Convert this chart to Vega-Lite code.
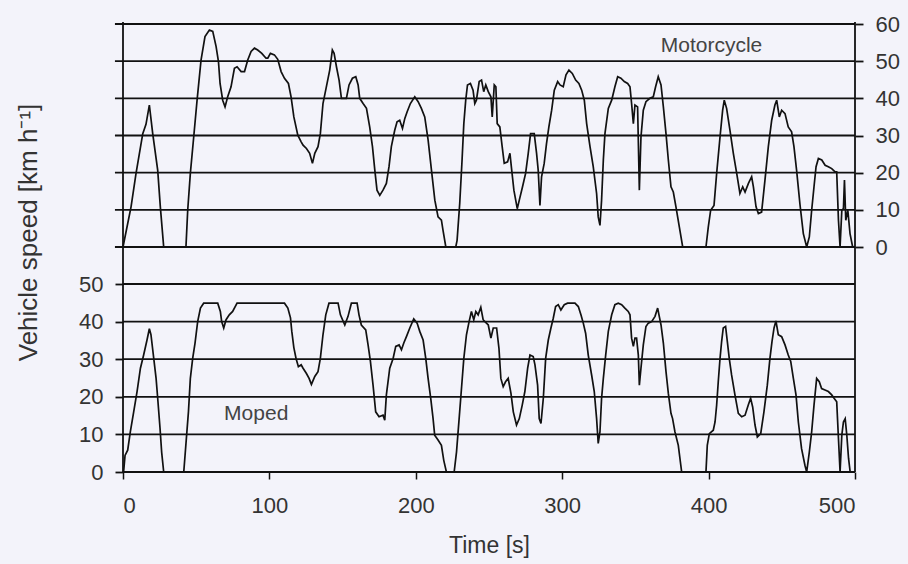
{
  "$schema": "https://vega.github.io/schema/vega-lite/v6.json",
  "width": 732,
  "height": 450,
  "autosize": {"type": "none"},
  "padding": {"left": 123, "top": 22, "right": 53, "bottom": 92},
  "background": "#f3f3fa",
  "config": {
    "view": {"stroke": null},
    "font": "Liberation Sans",
    "axisX": {
      "grid": false,
      "domain": false,
      "tickSize": 7,
      "tickColor": "#111111",
      "tickWidth": 1.5,
      "labelFontSize": 22,
      "labelColor": "#333333",
      "labelPadding": 16,
      "titleFontSize": 23,
      "titleColor": "#333333",
      "titleFontWeight": "normal",
      "titlePadding": 18
    },
    "axisY": {
      "domain": false,
      "grid": false,
      "tickSize": 8,
      "tickColor": "#111111",
      "tickWidth": 1.8,
      "labelFontSize": 22,
      "labelColor": "#333333",
      "labelPadding": 12
    }
  },
  "datasets": {
    "moto": [
      {"t":0,"v":0},{"t":5.5,"v":10.8},{"t":8.9,"v":19.8},{"t":13.5,"v":30.5},{"t":15.7,"v":33},{"t":18,"v":38.2},{"t":20.3,"v":30.5},{"t":23.7,"v":20.7},{"t":25.5,"v":10.8},{"t":27.8,"v":0},{"t":43,"v":0},{"t":44.2,"v":9.9},{"t":46,"v":19.8},{"t":48.3,"v":29.6},{"t":50.6,"v":39.5},{"t":53.3,"v":50.3},{"t":56,"v":56.6},{"t":59,"v":58.4},{"t":61.3,"v":58},{"t":63.6,"v":53.9},{"t":65.2,"v":49.9},{"t":66.3,"v":44},{"t":68.1,"v":39.5},{"t":69.7,"v":37.7},{"t":71.5,"v":40.4},{"t":73.8,"v":43.1},{"t":76.1,"v":48.1},{"t":77.9,"v":48.5},{"t":80.7,"v":47.2},{"t":83,"v":47.2},{"t":85.2,"v":50.3},{"t":87.5,"v":52.6},{"t":89.8,"v":53.5},{"t":92,"v":53},{"t":94.8,"v":52.1},{"t":97.7,"v":50.8},{"t":98.9,"v":50.8},{"t":100.7,"v":52.1},{"t":103.4,"v":51.7},{"t":105.7,"v":50.5},{"t":108,"v":47.2},{"t":110.3,"v":45.4},{"t":113,"v":44},{"t":114.8,"v":40.4},{"t":116.7,"v":35},{"t":119.4,"v":30.1},{"t":121.7,"v":28.3},{"t":123,"v":27.4},{"t":125.3,"v":26.5},{"t":127.5,"v":25.2},{"t":129.4,"v":22.5},{"t":131,"v":25.2},{"t":133.2,"v":27},{"t":134.8,"v":30.5},{"t":136.6,"v":38.6},{"t":138.9,"v":43.1},{"t":141.2,"v":47.6},{"t":143,"v":53},{"t":144.2,"v":52.1},{"t":145.8,"v":48.5},{"t":147.6,"v":44.9},{"t":149.2,"v":40},{"t":152.6,"v":40},{"t":154.4,"v":43.6},{"t":156.7,"v":45.4},{"t":159,"v":45.8},{"t":160.6,"v":43.6},{"t":161.7,"v":40},{"t":164,"v":38.6},{"t":166.3,"v":37.3},{"t":168.5,"v":32.3},{"t":170.4,"v":27},{"t":172,"v":20.7},{"t":173.5,"v":15.3},{"t":175.4,"v":13.9},{"t":177.6,"v":15.3},{"t":179.9,"v":17.1},{"t":181.7,"v":21.6},{"t":183.3,"v":27},{"t":185.6,"v":31.4},{"t":187.2,"v":33.7},{"t":189,"v":34.1},{"t":190.9,"v":31.9},{"t":192.5,"v":34.6},{"t":194.1,"v":36.4},{"t":196.3,"v":38.6},{"t":199.3,"v":40.4},{"t":201.6,"v":39.1},{"t":203.8,"v":37.3},{"t":206.1,"v":35},{"t":208.4,"v":28.8},{"t":210.7,"v":20.7},{"t":213,"v":12.6},{"t":215.2,"v":8.1},{"t":217.5,"v":7.2},{"t":218.6,"v":4.5},{"t":220.5,"v":0},{"t":227.3,"v":0},{"t":228.2,"v":1.8},{"t":230,"v":11.7},{"t":231.6,"v":23.4},{"t":232.8,"v":33.2},{"t":234.1,"v":39.5},{"t":235.3,"v":43.6},{"t":237.3,"v":44},{"t":239.1,"v":42.2},{"t":240.3,"v":38.6},{"t":241.4,"v":39.5},{"t":243.3,"v":44.5},{"t":244.9,"v":44.9},{"t":246.4,"v":41.8},{"t":247.8,"v":43.6},{"t":249.5,"v":41.8},{"t":251.3,"v":40.4},{"t":252.2,"v":35},{"t":253.6,"v":43.6},{"t":254.7,"v":43.1},{"t":255.6,"v":33.2},{"t":257.4,"v":32.3},{"t":259,"v":27},{"t":260.4,"v":22.5},{"t":262.7,"v":22.9},{"t":264.3,"v":25.2},{"t":265.4,"v":21.1},{"t":267,"v":15.3},{"t":269.3,"v":10.3},{"t":270.7,"v":12.6},{"t":272.9,"v":16.2},{"t":275,"v":19.8},{"t":276.8,"v":25.2},{"t":278.4,"v":30.5},{"t":280.9,"v":30.5},{"t":282.5,"v":25.2},{"t":283.6,"v":20.7},{"t":284.8,"v":11.2},{"t":285.9,"v":18.9},{"t":287.7,"v":22.5},{"t":289.3,"v":27.9},{"t":290.9,"v":32.3},{"t":292.8,"v":36.8},{"t":294.6,"v":42.2},{"t":296.9,"v":44.5},{"t":298.5,"v":43.6},{"t":300.7,"v":43.1},{"t":302.6,"v":46.3},{"t":304.6,"v":47.6},{"t":306.9,"v":46.7},{"t":309.2,"v":44.9},{"t":311.4,"v":44},{"t":313.3,"v":42.2},{"t":315.1,"v":39.5},{"t":316.7,"v":33.2},{"t":319,"v":27},{"t":321.2,"v":21.6},{"t":323.5,"v":14.4},{"t":324.6,"v":8.1},{"t":325.8,"v":5.8},{"t":326.9,"v":12.6},{"t":328.1,"v":23.4},{"t":329.2,"v":30.5},{"t":331.5,"v":37.3},{"t":333.8,"v":39.5},{"t":336,"v":43.1},{"t":337.9,"v":45.8},{"t":340.1,"v":45.4},{"t":342.4,"v":44.5},{"t":344.7,"v":44},{"t":346.3,"v":43.1},{"t":347.4,"v":38.6},{"t":348.6,"v":33.2},{"t":349.7,"v":38.2},{"t":351.5,"v":37.7},{"t":352.7,"v":15.3},{"t":353.8,"v":29.6},{"t":355.4,"v":36.8},{"t":357.2,"v":39.1},{"t":359.9,"v":40},{"t":362.2,"v":40.4},{"t":363.8,"v":43.1},{"t":365.6,"v":45.8},{"t":367.5,"v":43.6},{"t":369.1,"v":37.7},{"t":370.9,"v":30.5},{"t":372.5,"v":23.4},{"t":374.3,"v":16.2},{"t":375.9,"v":14.8},{"t":377.7,"v":10.8},{"t":380,"v":5.4},{"t":382.3,"v":0},{"t":398.2,"v":0},{"t":399.8,"v":5.4},{"t":401.4,"v":9.9},{"t":403.7,"v":11.2},{"t":405.5,"v":19.8},{"t":407.8,"v":29.6},{"t":409.6,"v":36.8},{"t":410.7,"v":39.5},{"t":412.3,"v":37.3},{"t":414.6,"v":31.4},{"t":416.9,"v":25.2},{"t":419.2,"v":19.8},{"t":421.4,"v":14.4},{"t":423.3,"v":16.2},{"t":424.9,"v":14.8},{"t":427.2,"v":17.1},{"t":429.4,"v":18.9},{"t":430.6,"v":16.2},{"t":432.4,"v":10.8},{"t":434,"v":9},{"t":436.2,"v":9.4},{"t":438.5,"v":18},{"t":440.8,"v":27},{"t":443.1,"v":34.1},{"t":445.3,"v":38.2},{"t":446.5,"v":39.5},{"t":448.3,"v":35},{"t":449.9,"v":36.8},{"t":452.2,"v":35.9},{"t":454.4,"v":32.3},{"t":456.7,"v":31},{"t":458.3,"v":27},{"t":460.1,"v":20.7},{"t":462.4,"v":11.5},{"t":464.7,"v":3.6},{"t":467,"v":0},{"t":468.8,"v":2.7},{"t":470.4,"v":9.9},{"t":472,"v":16.2},{"t":473.4,"v":21.6},{"t":475,"v":23.8},{"t":477.3,"v":23.4},{"t":479.6,"v":22},{"t":481.8,"v":21.6},{"t":484.1,"v":21.1},{"t":486.4,"v":20.2},{"t":487.5,"v":20.2},{"t":488.7,"v":7.2},{"t":489.8,"v":0},{"t":491,"v":9.9},{"t":492.1,"v":10.3},{"t":492.8,"v":18},{"t":493.7,"v":7.2},{"t":495.1,"v":9.9},{"t":496.6,"v":3.6},{"t":498.4,"v":0}
    ],
    "moped": [
      {"t":0,"v":0},{"t":0.5,"v":0.4},{"t":1.4,"v":4.4},{"t":3.2,"v":5.8},{"t":5,"v":10.7},{"t":7.3,"v":16},{"t":9.6,"v":21.4},{"t":11.9,"v":27.6},{"t":14.1,"v":31.1},{"t":16.4,"v":35.1},{"t":18,"v":38.1},{"t":19.1,"v":36.5},{"t":21,"v":30.2},{"t":22.6,"v":24.9},{"t":23.7,"v":19.6},{"t":25.3,"v":11.6},{"t":26.4,"v":5.3},{"t":27.8,"v":0},{"t":41.5,"v":0},{"t":43.1,"v":8},{"t":44.7,"v":16},{"t":46,"v":24.9},{"t":47.6,"v":30.2},{"t":49.2,"v":34.3},{"t":51,"v":40},{"t":52.9,"v":43.6},{"t":55.1,"v":44.9},{"t":64.7,"v":44.9},{"t":66.5,"v":42.7},{"t":67.4,"v":40},{"t":68.8,"v":38.3},{"t":70.4,"v":40.5},{"t":72.6,"v":41.8},{"t":74.9,"v":42.7},{"t":77.9,"v":44.9},{"t":110.3,"v":44.9},{"t":112.6,"v":43.6},{"t":114.4,"v":41},{"t":115.3,"v":37.4},{"t":116.7,"v":33.1},{"t":118.2,"v":30.2},{"t":119.8,"v":28},{"t":121.7,"v":28.5},{"t":123,"v":27.6},{"t":125.3,"v":26.2},{"t":127.1,"v":24.9},{"t":128.7,"v":23.3},{"t":131,"v":25.4},{"t":133.2,"v":26.7},{"t":134.8,"v":30.2},{"t":136.6,"v":36.5},{"t":138.5,"v":41.8},{"t":140.7,"v":44.9},{"t":146.9,"v":44.9},{"t":148.5,"v":41.8},{"t":151.5,"v":39.1},{"t":153.7,"v":41.4},{"t":156,"v":44.9},{"t":159.9,"v":44.9},{"t":161.2,"v":41.8},{"t":162.8,"v":39.1},{"t":165.8,"v":37.8},{"t":167.4,"v":33.8},{"t":169,"v":29.4},{"t":170.8,"v":23.1},{"t":172.6,"v":16},{"t":174.9,"v":14.7},{"t":177.6,"v":15.1},{"t":178.8,"v":13.8},{"t":179.9,"v":20.5},{"t":182.2,"v":27.6},{"t":184.5,"v":30.2},{"t":186.3,"v":33.4},{"t":188.6,"v":33.8},{"t":190.2,"v":32.5},{"t":191.8,"v":34.3},{"t":193.6,"v":36},{"t":195.9,"v":38.3},{"t":198.6,"v":40.7},{"t":200.9,"v":39.6},{"t":202.7,"v":37.4},{"t":205,"v":35.1},{"t":206.8,"v":30.2},{"t":208.4,"v":24.9},{"t":210.2,"v":19.6},{"t":211.8,"v":14.2},{"t":212.9,"v":9.8},{"t":215.2,"v":8.5},{"t":217.5,"v":7.1},{"t":219.1,"v":3.1},{"t":220.9,"v":0},{"t":226.2,"v":0},{"t":227.8,"v":5.3},{"t":229.6,"v":14.2},{"t":231.2,"v":22.2},{"t":232.8,"v":30.2},{"t":234.6,"v":36.5},{"t":236.4,"v":40},{"t":238,"v":42.7},{"t":239.6,"v":40.5},{"t":241,"v":42.7},{"t":242.6,"v":41.8},{"t":244.4,"v":43.8},{"t":246,"v":40.5},{"t":247.2,"v":40},{"t":249.5,"v":39.1},{"t":251.3,"v":35.6},{"t":252.9,"v":38.3},{"t":255.2,"v":38.3},{"t":256.8,"v":32.9},{"t":258.1,"v":24.9},{"t":259.7,"v":22.7},{"t":261.3,"v":24},{"t":263.1,"v":24.9},{"t":265,"v":20.9},{"t":266.6,"v":16},{"t":268.8,"v":12.5},{"t":270.7,"v":14.2},{"t":272.7,"v":17.8},{"t":274.5,"v":21.4},{"t":276.4,"v":27.6},{"t":278,"v":31.1},{"t":280.2,"v":30.7},{"t":281.4,"v":28.5},{"t":283.2,"v":23.1},{"t":284.3,"v":14.2},{"t":285.5,"v":12.9},{"t":287.1,"v":19.6},{"t":288.7,"v":30.2},{"t":290.5,"v":35.1},{"t":292.3,"v":38.3},{"t":293.9,"v":40.9},{"t":295.5,"v":44},{"t":297.3,"v":44.5},{"t":299.1,"v":43.1},{"t":301.4,"v":44.5},{"t":303.7,"v":44.9},{"t":308.7,"v":44.9},{"t":311,"v":44},{"t":312.8,"v":41.8},{"t":314.4,"v":39.6},{"t":316,"v":36.9},{"t":317.8,"v":31.1},{"t":320.1,"v":25.8},{"t":321.9,"v":21.4},{"t":323.5,"v":14.2},{"t":324.6,"v":7.6},{"t":325.8,"v":10.7},{"t":326.9,"v":19.6},{"t":328.1,"v":24.9},{"t":329.7,"v":31.1},{"t":331.5,"v":37.4},{"t":333.8,"v":41.8},{"t":336,"v":44.5},{"t":338.3,"v":44.9},{"t":340.6,"v":44.5},{"t":342.8,"v":43.6},{"t":345.1,"v":42.7},{"t":346.3,"v":41.8},{"t":347.4,"v":35.6},{"t":348.6,"v":33.4},{"t":349.7,"v":35.6},{"t":350.8,"v":35.6},{"t":352,"v":31.1},{"t":352.7,"v":23.1},{"t":353.8,"v":27.6},{"t":355.4,"v":33.8},{"t":357.2,"v":38.7},{"t":358.8,"v":39.6},{"t":361.1,"v":40},{"t":363.4,"v":41.4},{"t":365.2,"v":43.6},{"t":366.1,"v":41.8},{"t":367.5,"v":39.1},{"t":369.1,"v":34.3},{"t":370.9,"v":26.7},{"t":372.5,"v":20.9},{"t":374.3,"v":15.6},{"t":375.4,"v":14.2},{"t":377,"v":10.7},{"t":379.3,"v":7.1},{"t":381.6,"v":0},{"t":398.2,"v":0},{"t":399.1,"v":7.1},{"t":400.5,"v":10.2},{"t":403.2,"v":11.1},{"t":404.4,"v":13.3},{"t":405.5,"v":17.8},{"t":406.6,"v":24},{"t":407.8,"v":30.2},{"t":408.9,"v":34.7},{"t":410,"v":38.3},{"t":411.6,"v":38.7},{"t":412.8,"v":34.7},{"t":414.1,"v":30.2},{"t":415.7,"v":25.8},{"t":418,"v":20.5},{"t":420.3,"v":15.6},{"t":422.6,"v":14.7},{"t":424.9,"v":15.1},{"t":427.1,"v":17.8},{"t":428.7,"v":19.6},{"t":430.1,"v":17.3},{"t":431.7,"v":12.5},{"t":433.3,"v":9.3},{"t":435.6,"v":10.2},{"t":437.8,"v":16},{"t":440.1,"v":23.1},{"t":441.9,"v":30.2},{"t":443.3,"v":34.7},{"t":444.7,"v":38.3},{"t":446,"v":40.2},{"t":447.6,"v":36.5},{"t":449.9,"v":36},{"t":452.2,"v":33.8},{"t":454.4,"v":31.1},{"t":456.1,"v":29.4},{"t":457.9,"v":24.9},{"t":459.7,"v":20.5},{"t":461.3,"v":13.3},{"t":463.5,"v":6.2},{"t":465.8,"v":1.8},{"t":467,"v":0},{"t":468.8,"v":5.3},{"t":470.4,"v":10.7},{"t":472,"v":17.8},{"t":473.8,"v":24.9},{"t":475.6,"v":24},{"t":477.2,"v":22.2},{"t":479.5,"v":21.8},{"t":481.8,"v":21.4},{"t":484.1,"v":20.5},{"t":485.7,"v":19.6},{"t":487.5,"v":18.7},{"t":488.7,"v":8.9},{"t":489.8,"v":0},{"t":491,"v":9.8},{"t":492.1,"v":13.3},{"t":493.3,"v":14.2},{"t":494.4,"v":9.8},{"t":495.6,"v":3.6},{"t":496.7,"v":0}
    ],
    "motoGrid": [{"v":0},{"v":10},{"v":20},{"v":30},{"v":40},{"v":50},{"v":60}],
    "mopedGrid": [{"v":0},{"v":10},{"v":20},{"v":30},{"v":40},{"v":50}]
  },
  "layer": [
    {
      "layer": [
        {
          "data": {"name": "motoGrid"},
          "mark": {"type": "rule", "color": "#111111", "strokeWidth": 1.8, "clip": false},
          "encoding": {
            "x": {"datum": -5.5, "type": "quantitative", "title": "Time [s]", "scale": {"domain": [0, 500], "nice": false}, "axis": {"values": [0, 100, 200, 300, 400, 500]}},
            "x2": {"datum": 500},
            "y": {
              "field": "v", "type": "quantitative",
              "scale": {"domain": [0, 60], "range": [225, 2], "nice": false},
              "axis": {"orient": "right", "values": [0, 10, 20, 30, 40, 50, 60], "title": null}
            }
          }
        },
        {
          "data": {"name": "moto"},
          "mark": {"type": "line", "color": "#111111", "strokeWidth": 1.7},
          "encoding": {
            "x": {"field": "t", "type": "quantitative", "title": "Time [s]", "scale": {"domain": [0, 500], "nice": false}, "axis": {"values": [0, 100, 200, 300, 400, 500]}},
            "y": {"field": "v", "type": "quantitative"}
          }
        },
        {
          "data": {"values": [{"t": 402, "v": 54, "label": "Motorcycle"}]},
          "mark": {"type": "text", "fontSize": 21, "color": "#444444", "baseline": "middle", "align": "center"},
          "encoding": {
            "x": {"field": "t", "type": "quantitative", "title": "Time [s]", "axis": {"values": [0, 100, 200, 300, 400, 500]}},
            "y": {"field": "v", "type": "quantitative"},
            "text": {"field": "label"}
          }
        }
      ]
    },
    {
      "layer": [
        {
          "data": {"name": "mopedGrid"},
          "mark": {"type": "rule", "color": "#111111", "strokeWidth": 1.8},
          "encoding": {
            "x": {"datum": 0, "type": "quantitative", "title": "Time [s]", "scale": {"domain": [0, 500], "nice": false}, "axis": {"values": [0, 100, 200, 300, 400, 500]}},
            "x2": {"datum": 500},
            "y": {
              "field": "v", "type": "quantitative",
              "scale": {"domain": [0, 50], "range": [450, 262], "nice": false},
              "axis": {
                "orient": "left", "values": [0, 10, 20, 30, 40, 50],
                "title": "Vehicle speed [km h⁻¹]",
                "titleFontSize": 26, "titleFontWeight": "normal", "titleColor": "#333333",
                "titleAngle": 270, "titleBaseline": "alphabetic", "titleAlign": "center",
                "titleX": -87, "titleY": 210
              }
            }
          }
        },
        {
          "data": {"name": "moped"},
          "mark": {"type": "line", "color": "#111111", "strokeWidth": 1.7},
          "encoding": {
            "x": {"field": "t", "type": "quantitative", "title": "Time [s]", "scale": {"domain": [0, 500], "nice": false}, "axis": {"values": [0, 100, 200, 300, 400, 500]}},
            "y": {"field": "v", "type": "quantitative"}
          }
        },
        {
          "data": {"values": [{"t": 91, "v": 15.3, "label": "Moped"}]},
          "mark": {"type": "text", "fontSize": 21, "color": "#444444", "baseline": "middle", "align": "center"},
          "encoding": {
            "x": {"field": "t", "type": "quantitative", "title": "Time [s]", "axis": {"values": [0, 100, 200, 300, 400, 500]}},
            "y": {"field": "v", "type": "quantitative"},
            "text": {"field": "label"}
          }
        }
      ]
    },
    {
      "data": {"values": [{"t": 0}, {"t": 500}]},
      "mark": {"type": "rule", "color": "#111111", "strokeWidth": 1.8},
      "encoding": {
        "x": {"field": "t", "type": "quantitative", "title": "Time [s]", "axis": {"values": [0, 100, 200, 300, 400, 500]}}
      }
    }
  ],
  "resolve": {"scale": {"y": "independent"}, "axis": {"y": "independent"}}
}
